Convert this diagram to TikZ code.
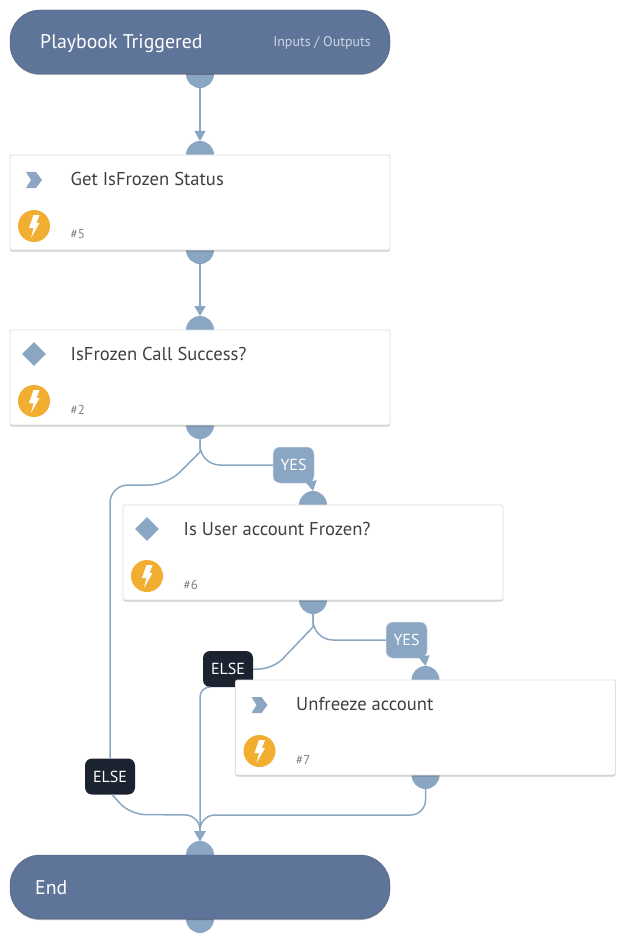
\documentclass[tikz,border=0pt]{standalone}
\usepackage{fontspec}
\setmainfont{PT Sans}
\usepackage{xcolor}
\definecolor{PORTCOLOR}{HTML}{8AA6C3}
\definecolor{PILLCOLOR}{HTML}{5F7499}
\definecolor{ELSECOLOR}{HTML}{1B2331}
\definecolor{BOLTCOLOR}{HTML}{F2AE30}
\definecolor{TITLECOLOR}{HTML}{404040}
\definecolor{PALECOLOR}{HTML}{CDD5E2}
\usetikzlibrary{arrows.meta,positioning,calc,backgrounds,shapes.geometric,shadows}
\tikzset{
  pill-style/.style = {
    rectangle, rounded corners=30pt, fill=PILLCOLOR, draw=PILLCOLOR!85!black,
    minimum width=380pt, minimum height=64pt, inner sep=0pt, outer sep=0pt,
    drop shadow={shadow xshift=0pt,shadow yshift=-1pt,opacity=.3,fill=black}
  },
  card-style/.style = {
    rectangle, rounded corners=2pt, fill=white, draw=black!13, line width=.8pt,
    minimum width=380pt, minimum height=95pt, inner sep=0pt, outer sep=0pt,
    drop shadow={shadow xshift=0pt,shadow yshift=-1.5pt,opacity=.2,fill=black}
  },
  port-style/.style = {
    circle, fill=PORTCOLOR, minimum size=28pt, inner sep=0pt, outer sep=0pt
  },
  label-style/.style = {
    rectangle, rounded corners=7pt, fill=#1, text=white, font=\fontsize{16}{16}\selectfont,
    minimum height=36pt, inner sep=0pt, outer sep=0pt
  },
  yes-style/.style = {
    label-style=PORTCOLOR, minimum width=41pt, draw=PORTCOLOR!40, line width=.5pt
  },
  else-style/.style = {
    label-style=ELSECOLOR, minimum width=50pt
  },
  title-style/.style = {
    anchor=west, text=TITLECOLOR, inner sep=0pt, font=\fontsize{18.6}{19}\selectfont
  },
  number-style/.style = {
    anchor=west, text=black!50, inner sep=0pt, font=\fontsize{13}{13}\selectfont
  },
  pill-title-style/.style = {
    anchor=west, text=white, inner sep=0pt, font=\fontsize{19.8}{20}\selectfont
  },
  bolt-style/.style = {
    circle, fill=BOLTCOLOR, minimum size=32pt, inner sep=0pt, outer sep=0pt
  },
  diamond-style/.style = {
    diamond, fill=PORTCOLOR, minimum size=24pt, inner sep=0pt
  },
  link-style/.style = {
    draw=PORTCOLOR, line width=1.5pt, -{Triangle[width=11pt,length=10pt]}
  },
  flat-style/.style = {
    draw=PORTCOLOR, line width=1.5pt
  },
  chevron-icon/.pic = {
    \fill[PORTCOLOR] (-8,-8) -- (2,-8) -- (8,0) -- (2,8) -- (-8,8) -- (-3,0) -- cycle;
  },
  bolt-icon/.pic = {
    \fill[white] (-0.5,-11) -- (5.5,-11) -- (2.5,-3) -- (5.5,-3) -- (-3,12) -- (-0.5,2) -- (-5,2) -- cycle;
  }
}
% card: name, placement, title, number, icon
\newcommand\createCard[5]{
  \node[card-style,#2] (#1) {};
  \node[title-style] (#1Title) at ([xshift=60.5pt,yshift=-24pt]#1.north west) {#3};
  \node[number-style] (#1Number) at ([xshift=60.5pt,yshift=-79.5pt]#1.north west) {\##4};
  #5
  \node[bolt-style] (#1Bolt) at ([xshift=24pt,yshift=-71pt]#1.north west) {};
  \pic at (#1Bolt) {bolt-icon};
  \begin{pgfonlayer}{background}
    \node[port-style] (#1In) at (#1.north) {};
    \node[port-style] (#1Out) at (#1.south) {};
  \end{pgfonlayer}
}
\newcommand\chevronIcon[1]{\pic at ([xshift=24pt,yshift=-25pt]#1.north west) {chevron-icon};}
\newcommand\diamondIcon[1]{\node[diamond-style] (#1Icon) at ([xshift=24pt,yshift=-24pt]#1.north west) {};}

\begin{document}
\begin{tikzpicture}[x=1pt,y=-1pt]
    \useasboundingbox (0,0) rectangle (625,944);

    %%% start
    \node[pill-style] (start) at (200,42) {};
    \node[pill-title-style] (startTitle) at ([xshift=30pt,yshift=-1.5pt]start.west) {Playbook Triggered};
    \node[anchor=east,text=PALECOLOR,inner sep=0pt,font=\fontsize{14}{14}\selectfont] (startIO)
      at ([xshift=-19pt,yshift=-0.5pt]start.east) {Inputs / Outputs};

    %%% tasks
    \createCard{status}{below=81pt of start}{Get IsFrozen Status}{5}{\chevronIcon{status}}
    \createCard{success}{below=80pt of status}{IsFrozen Call Success?}{2}{\diamondIcon{success}}
    \createCard{frozen}{below=80pt of success,xshift=113pt}{Is User account Frozen?}{6}{\diamondIcon{frozen}}
    \createCard{unfreeze}{below=80pt of frozen,xshift=112.5pt}{Unfreeze account}{7}{\chevronIcon{unfreeze}}

    %%% end
    \node[pill-style] (end) [below=80pt of unfreeze,xshift=-225.5pt] {};
    \node[pill-title-style] (endTitle) at ([xshift=25pt,yshift=-1pt]end.west) {End};
    \coordinate (endJoin) at (200,815);

    \begin{pgfonlayer}{background}
      \node[port-style] (startOut) at (start.south) {};
      \node[port-style] (endIn) at (end.north) {};
      \node[port-style] (endOut) at (end.south) {};

      %%% branch labels
      \node[yes-style] (yesA) at (293.5,465) {YES};
      \node[yes-style] (yesB) at (406.5,640) {YES};
      \node[else-style] (elseA) at (110,776.5) {ELSE};
      \node[else-style] (elseB) at (228,669) {ELSE};

      %%% arrows
      \path[link-style] (startOut.south) -- (statusIn.north);
      \path[link-style] (statusOut.south) -- (successIn.north);
      \path[flat-style,rounded corners=20pt] (successOut.south) |- (yesA.west);
      \path[link-style] ([xshift=-4pt,yshift=8pt]yesA.south east) -- (frozenIn.north);
      \path[flat-style] (successOut.south) -- ++(0,13) [rounded corners=18pt] -- ++(-33,33) -| (elseA.north);
      \path[flat-style,rounded corners=20pt] (frozenOut.south) |- (yesB.west);
      \path[link-style] ([xshift=-4pt,yshift=8pt]yesB.south east) -- (unfreezeIn.north);
      \path[flat-style] (frozenOut.south) -- ++(0,13) [rounded corners=14pt] -- ++(-40,42) -- (elseB.east);
      \path[link-style,rounded corners=15pt] ([xshift=2pt]elseA.south) -- ++(18,20) -- (endJoin) -- (endIn.north);
      \path[link-style,rounded corners=10pt] ([xshift=6pt]elseB.south west) -| (endIn.north);
      \path[link-style,rounded corners=15pt] (unfreezeOut.south) |- (endJoin) -- (endIn.north);
    \end{pgfonlayer}
\end{tikzpicture}
\end{document}
